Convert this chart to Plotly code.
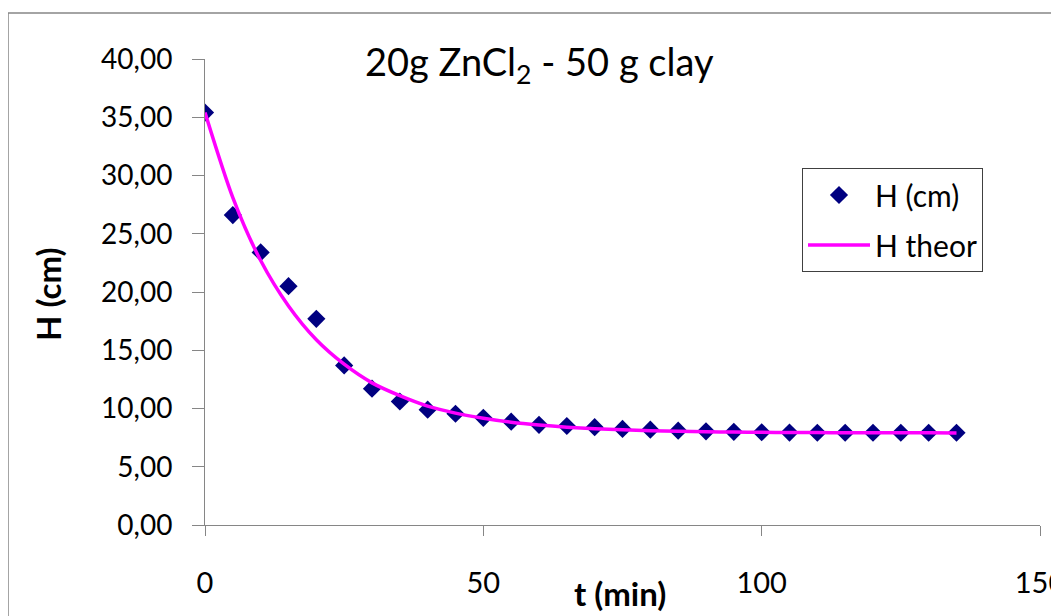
import plotly.graph_objects as go

t_meas = [0, 5, 10, 15, 20, 25, 30, 35, 40, 45, 50, 55, 60, 65, 70,
          75, 80, 85, 90, 95, 100, 105, 110, 115, 120, 125, 130, 135]
h_meas = [35.4, 26.6, 23.4, 20.5, 17.7, 13.7, 11.7, 10.6, 9.9, 9.55, 9.2, 8.87,
          8.6, 8.5, 8.4, 8.25, 8.18, 8.1, 8.04, 8.0, 7.96, 7.93, 7.92, 7.92,
          7.92, 7.92, 7.92, 7.92]

# Theoretical curve
t_theor = [0, 5, 10, 15, 20, 25, 30, 35, 40, 45, 50, 55, 60, 65, 70,
           75, 80, 85, 90, 95, 100, 105, 110, 115, 120, 125, 130, 135]
h_theor = [35.4, 28.1, 22.7, 18.8, 15.9, 13.8, 12.2, 11.1, 10.2, 9.6, 9.16, 8.82,
           8.58, 8.4, 8.27, 8.17, 8.1, 8.05, 8.0, 7.98, 7.96, 7.94, 7.93, 7.92,
           7.92, 7.91, 7.91, 7.9]

x_ticks = [0, 50, 100, 150]
y_ticks = [0, 5, 10, 15, 20, 25, 30, 35, 40]

FONT = "Lato"
GRAY = "#868686"

# page body has an 8px margin: figure is sized/offset to compensate
W, H = 1051, 608
L, T = 197, 51
PW, PH = 835, 466

fig = go.Figure()
fig.add_trace(go.Scatter(
    x=t_meas, y=h_meas, mode="markers", name="H (cm)", legendgroup="a",
    marker=dict(symbol="diamond", size=14, color="#000080", line=dict(width=0)),
))
fig.add_trace(go.Scatter(
    x=t_theor, y=h_theor, mode="lines", name="H theor", legendgroup="b",
    line=dict(color="#FF00FF", width=3.5, shape="spline", smoothing=0.8),
))

def px(x):
    return (x - 8 - L) / PW

def py(y):
    return (T + PH - (y - 8)) / PH

fig.update_layout(
    width=W, height=H,
    margin=dict(l=L, r=W - L - PW, t=T, b=H - T - PH, autoexpand=False),
    paper_bgcolor="white", plot_bgcolor="white",
    separators=", ",
    font=dict(family=FONT, size=29, color="black"),
    showlegend=True,
    legend=dict(
        x=px(802), y=py(168), xanchor="left", yanchor="top",
        bgcolor="white", bordercolor="#404040", borderwidth=1,
        font=dict(family=FONT, size=30, color="black"),
        itemwidth=62, tracegroupgap=8,
    ),
    xaxis=dict(
        range=[0, 150], tickvals=x_ticks, ticktext=[str(v) for v in x_ticks],
        showgrid=False, zeroline=False, showline=True, linecolor=GRAY, linewidth=1,
        ticks="outside", ticklen=10, tickcolor=GRAY,
        tickfont=dict(family=FONT, size=29),
        ticklabelstandoff=22, ticklabeloverflow="allow", automargin=False,
    ),
    yaxis=dict(
        range=[0, 40], tickvals=y_ticks, tickformat=".2f",
        showgrid=False, zeroline=False, showline=True, linecolor=GRAY, linewidth=1,
        ticks="outside", ticklen=12, tickcolor=GRAY,
        tickfont=dict(family=FONT, size=28),
        ticklabelstandoff=14, automargin=False,
    ),
    shapes=[dict(
        type="rect", xref="paper", yref="paper",
        x0=px(8), x1=px(1100), y0=py(700), y1=py(13),
        line=dict(color=GRAY, width=1.5), fillcolor="rgba(0,0,0,0)", layer="below",
    )],
    annotations=[
        dict(text="20g ZnCl<sub>2</sub> - 50 g clay", xref="paper", yref="paper",
             x=px(539), y=py(64), xanchor="center", yanchor="middle", showarrow=False,
             font=dict(family=FONT, size=38, color="black")),
        dict(text="<b>t (min)</b>", xref="paper", yref="paper",
             x=px(620), y=py(593), xanchor="center", yanchor="middle",
             showarrow=False, font=dict(family=FONT, size=33, color="black")),
        dict(text="<b>H (cm)</b>", xref="paper", yref="paper",
             x=px(48), y=py(294), xanchor="center", yanchor="middle",
             textangle=-90, showarrow=False, font=dict(family=FONT, size=33, color="black")),
    ],
)

fig.write_html("out.html")
